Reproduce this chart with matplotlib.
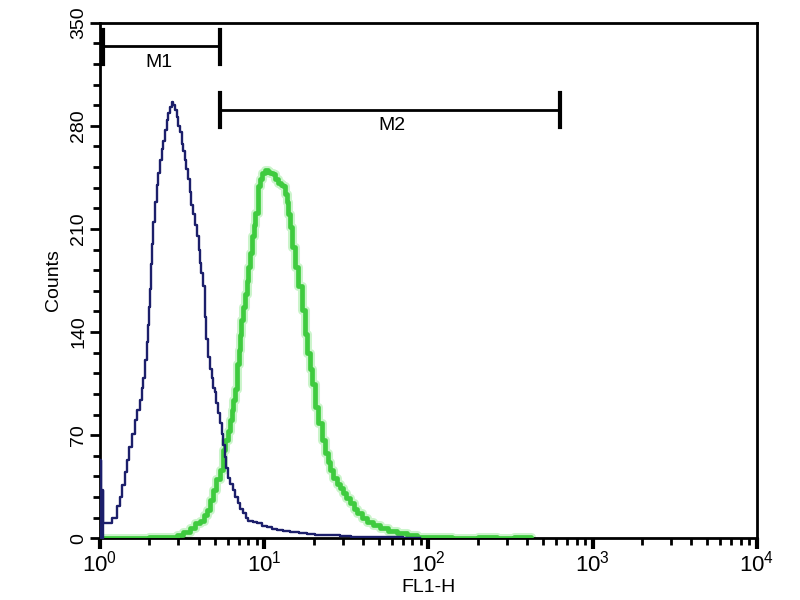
import numpy as np
import matplotlib
matplotlib.use("Agg")
import matplotlib.pyplot as plt
from matplotlib.ticker import MultipleLocator, LogLocator, NullFormatter

plt.rcParams['font.family'] = ['Liberation Sans', 'DejaVu Sans']

# control sample (dark blue), FL1-H value where each step starts, and counts
blue_fl = [1.00, 1.02, 1.045, 1.18, 1.27, 1.32, 1.36, 1.41, 1.46, 1.51, 1.57, 1.63,
           1.68, 1.75, 1.79, 1.83, 1.88, 1.92, 1.96, 1.99, 2.02, 2.05, 2.07, 2.10,
           2.15, 2.22, 2.27, 2.32, 2.37, 2.42, 2.49, 2.56, 2.61, 2.67, 2.73, 2.80,
           2.88, 2.94, 2.99, 3.07, 3.16, 3.22, 3.29, 3.36, 3.44, 3.53, 3.60, 3.68,
           3.79, 3.90, 3.98, 4.06, 4.15, 4.24, 4.36, 4.45, 4.55, 4.68, 4.81, 4.91,
           5.02, 5.12, 5.23, 5.38, 5.53, 5.65, 5.77, 5.89, 6.02, 6.23, 6.45, 6.68,
           6.92, 7.17, 7.42, 7.70, 7.96, 8.50, 9.03, 9.70, 10.4, 11.2, 12.0, 13.1,
           14.4, 16.2, 18.2, 20.4, 22.8, 25.6, 28.9, 34.0, 40.0, 48.0, 58.0, 70.0, 89.0]
blue_counts = [53, 33, 10, 14, 22, 28, 36, 45, 53, 62, 71, 80,
               87, 94, 102, 109, 121, 133, 145, 157, 169, 186, 200, 215,
               228, 240, 248, 257, 264, 270, 277, 284, 289, 293, 296, 294,
               291, 286, 280, 276, 268, 263, 257, 251, 244, 235, 226, 220,
               213, 205, 196, 187, 180, 171, 150, 135, 123, 115, 109, 102,
               99, 92, 85, 78, 71, 63, 55, 48, 41, 37, 33, 28,
               24, 20, 17, 14, 12, 11, 10, 8.5, 7.5, 6.5, 5.5, 5,
               4.5, 3.5, 3, 2.5, 2, 2.5, 1.5, 1, 0.5, 0.5, 0.5, 0.3, 0]

# stained sample (green)
green_fl = [1.00, 2.00, 2.60, 2.94, 3.20, 3.53, 3.80, 4.06, 4.30, 4.48, 4.70, 4.88,
            5.10, 5.37, 5.61, 5.80, 6.02, 6.20, 6.36, 6.50, 6.63, 6.83, 6.98, 7.12,
            7.27, 7.42, 7.63, 7.85, 8.02, 8.20, 8.43, 8.63, 8.83, 9.15, 9.40, 9.68,
            10.1, 10.54, 10.9, 11.31, 11.7, 12.13, 12.6, 13.01, 13.4, 13.76, 14.05,
            14.35, 14.76, 15.39, 16.05, 16.98, 17.71, 18.21, 18.9, 19.53, 20.37, 21.24,
            22.47, 23.44, 24.3, 25.14, 26.4, 27.73, 28.9, 30.17, 31.7, 33.28, 35.0,
            36.7, 39.3, 42.23, 46.0, 50.68, 57.0, 64.3, 74.0, 85.1, 100, 140, 200,
            260, 330, 420]
green_counts = [0, 0.5, 1, 2, 4, 7, 10, 12, 16, 19, 26, 33,
                40, 46, 60, 67, 73, 80, 87, 94, 101, 118, 128, 138,
                148, 157, 166, 175, 184, 194, 205, 213, 221, 239, 244, 248,
                250, 249, 248, 247, 244, 241, 240, 239, 234, 228, 220,
                211, 198, 184, 171, 155, 139, 126, 115, 105, 89, 78,
                67, 58, 52, 46, 41, 37, 34, 31, 27, 24, 20,
                17, 14, 11, 9, 7, 5, 3.4, 2, 0.7, 0.5, 0.3, 0.5,
                0.3, 0.5, 0]

# marker gates
m1_range = [1.043, 5.38]
m1_level = 334
m2_range = [5.38, 632]
m2_level = 291

fig = plt.figure(figsize=(8, 6), dpi=100)
ax = fig.add_axes([0.125, 0.103, 0.821, 0.859])

ax.step(green_fl, green_counts, where='post', color='#55dd55', lw=6.5,
        alpha=0.3, zorder=2)
ax.step(green_fl, green_counts, where='post', color='#3fcb3f', lw=3.4, zorder=3)
ax.step(blue_fl, blue_counts, where='post', color='#1c1f6b', lw=1.7, zorder=4)
ax.fill_between(blue_fl[:3], blue_counts[:3], step='post', color='#1c1f6b', zorder=4)

ax.set_xscale('log')
ax.set_xlim(1, 1e4)
ax.set_ylim(0, 350)

# gates
ax.plot(m1_range, [m1_level, m1_level], color='black', lw=2, zorder=5)
for xv in m1_range:
    ax.plot([xv, xv], [m1_level - 12, m1_level + 11], color='black', lw=3, zorder=5)
ax.text(2.3, m1_level - 5, 'M1', ha='center', va='top', fontsize=14)
ax.plot(m2_range, [m2_level, m2_level], color='black', lw=2, zorder=5)
for xv in m2_range:
    ax.plot([xv, xv], [m2_level - 12, m2_level + 11], color='black', lw=3, zorder=5)
ax.text(60, m2_level - 5, 'M2', ha='center', va='top', fontsize=14)

ax.yaxis.set_major_locator(MultipleLocator(70))
ax.yaxis.set_minor_locator(MultipleLocator(14))
ax.xaxis.set_major_locator(LogLocator(base=10, numticks=10))
ax.xaxis.set_minor_locator(LogLocator(base=10, subs=np.arange(2, 10), numticks=20))
ax.xaxis.set_minor_formatter(NullFormatter())

ax.tick_params(axis='both', which='major', direction='out', length=7, width=2,
               color='black')
ax.tick_params(axis='x', which='major', labelsize=16, length=8, width=3, pad=1)
ax.tick_params(axis='y', which='major', labelsize=14, pad=2)
ax.tick_params(axis='both', which='minor', direction='out', length=5, width=2)
for lab in ax.get_yticklabels():
    lab.set_rotation(90)
    lab.set_va('center')

for sp in ax.spines.values():
    sp.set_linewidth(2)

ax.set_ylabel('Counts', fontsize=14, labelpad=6)
ax.set_xlabel('FL1-H', fontsize=14, labelpad=2)

fig.savefig('out.png', dpi=100)
